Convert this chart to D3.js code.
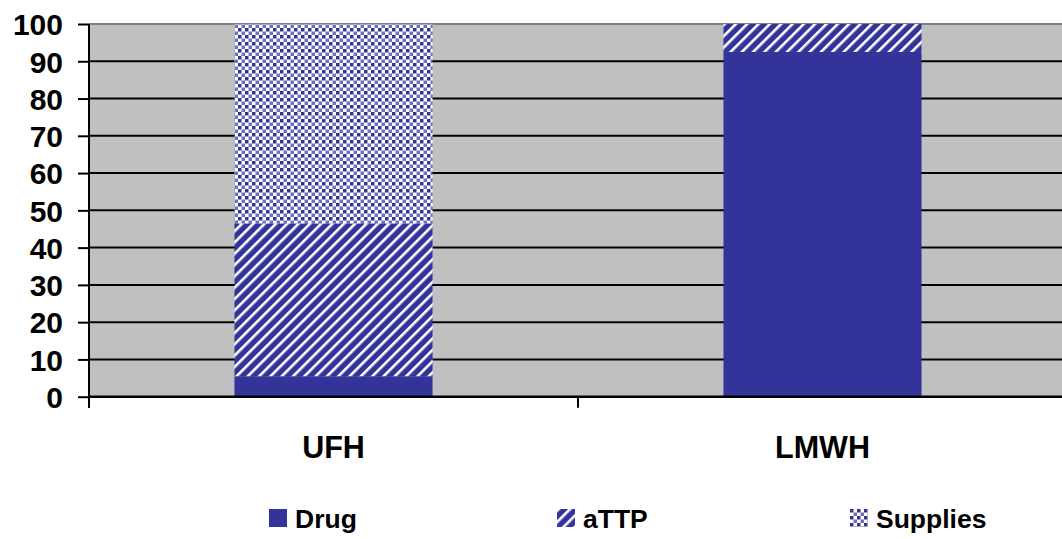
<!DOCTYPE html>
<html>
<head>
<meta charset="utf-8">
<script src="https://cdn.jsdelivr.net/npm/d3@7"></script>
<style>
html,body{margin:0;padding:0;background:#fff;}
svg{display:block;font-family:"Liberation Sans",Arial,sans-serif;font-weight:bold;}
</style>
</head>
<body>
<svg id="chart" width="1062" height="539"></svg>
<script>
const categories = ["UFH", "LMWH"];
const seriesNames = ["Drug", "aTTP", "Supplies"];
const drug = [5.5, 92.5];
const attp = [41, 7.5];
const supplies = [53.5, 0];
const yTicks = [0, 10, 20, 30, 40, 50, 60, 70, 80, 90, 100];

const svg = d3.select("#chart");
const navy = "#333399";
const mLeft = 89, mRight = 1067, mTop = 24, mBottom = 396.7;

const defs = svg.append("defs");
const stripe = defs.append("pattern").attr("id", "stripe")
  .attr("patternUnits", "userSpaceOnUse").attr("width", 8).attr("height", 8)
  .attr("patternTransform", "rotate(45)");
stripe.append("rect").attr("width", 8).attr("height", 8).attr("fill", navy);
stripe.append("rect").attr("x", 0).attr("width", 2.6).attr("height", 8).attr("fill", "#fff");

const check = defs.append("pattern").attr("id", "check")
  .attr("patternUnits", "userSpaceOnUse").attr("width", 7).attr("height", 7);
check.append("rect").attr("width", 7).attr("height", 7).attr("fill", "#fff");
check.append("rect").attr("width", 3.5).attr("height", 3.5).attr("fill", navy);
check.append("rect").attr("x", 3.5).attr("y", 3.5).attr("width", 3.5).attr("height", 3.5).attr("fill", "#7070bb");

const fills = {"Drug": navy, "aTTP": "url(#stripe)", "Supplies": "url(#check)"};

const x = d3.scaleBand().domain(categories).range([mLeft, mRight]).paddingInner(0).paddingOuter(0);
const y = d3.scaleLinear().domain([0, 100]).range([mBottom, mTop]);

// plot background
svg.append("rect").attr("x", mLeft).attr("y", mTop).attr("width", mRight - mLeft).attr("height", mBottom - mTop).attr("fill", "#c0c0c0");

// gridlines
svg.append("g").selectAll("line").data(yTicks.filter(d => d > 0 && d < 100)).join("line")
  .attr("x1", mLeft).attr("x2", mRight).attr("y1", d => y(d)).attr("y2", d => y(d))
  .attr("stroke", "#000").attr("stroke-width", 2);
svg.append("line").attr("x1", mLeft).attr("x2", mRight).attr("y1", y(100)).attr("y2", y(100))
  .attr("stroke", "#808080").attr("stroke-width", 2);

// stacked data
const table = categories.map((c, i) => ({cat: c, Drug: drug[i], aTTP: attp[i], Supplies: supplies[i]}));
const stack = d3.stack().keys(seriesNames)(table);
const barW = x.bandwidth() * 0.405;

svg.append("g").selectAll("g").data(stack).join("g")
  .attr("fill", d => fills[d.key])
  .selectAll("rect").data(d => d).join("rect")
  .attr("x", d => x(d.data.cat) + (x.bandwidth() - barW) / 2)
  .attr("width", barW)
  .attr("y", d => y(d[1]))
  .attr("height", d => y(d[0]) - y(d[1]));

// axes
const yAxis = d3.axisLeft(y).tickValues(yTicks).tickSize(11).tickPadding(15);
const gy = svg.append("g").attr("transform", `translate(${mLeft},0)`).call(yAxis);
gy.select(".domain").attr("stroke", "#000").attr("stroke-width", 2).attr("d", `M0,${mTop}V${mBottom + 11}`);
gy.selectAll(".tick line").attr("stroke", "#000").attr("stroke-width", 2);
gy.selectAll(".tick text").attr("font-size", 30).attr("font-weight", "bold").attr("fill", "#000")
  .attr("font-family", "Liberation Sans, Arial, sans-serif").attr("dy", "0.36em");

const gx = svg.append("g").attr("transform", `translate(0,${mBottom})`);
gx.append("line").attr("x1", mLeft).attr("x2", mRight).attr("y1", 0).attr("y2", 0).attr("stroke", "#000").attr("stroke-width", 2.5);
gx.selectAll("line.t").data([mLeft, mLeft + x.bandwidth(), mRight]).join("line").attr("class", "t")
  .attr("x1", d => d).attr("x2", d => d).attr("y1", 0).attr("y2", 11).attr("stroke", "#000").attr("stroke-width", 2);
gx.selectAll("text").data(categories).join("text")
  .attr("x", d => x(d) + x.bandwidth() / 2).attr("y", 61)
  .attr("text-anchor", "middle").attr("font-size", 30.5).attr("fill", "#000").text(d => d);

// legend
const legendX = [269, 557, 850];
const lg = svg.append("g").selectAll("g").data(seriesNames).join("g")
  .attr("transform", (d, i) => `translate(${legendX[i]},509)`);
lg.append("rect").attr("width", 18).attr("height", 18).attr("fill", d => fills[d]);
lg.append("text").attr("x", 26).attr("y", 18.5).attr("font-size", 26.5).attr("fill", "#000").text(d => d);
</script>
</body>
</html>
